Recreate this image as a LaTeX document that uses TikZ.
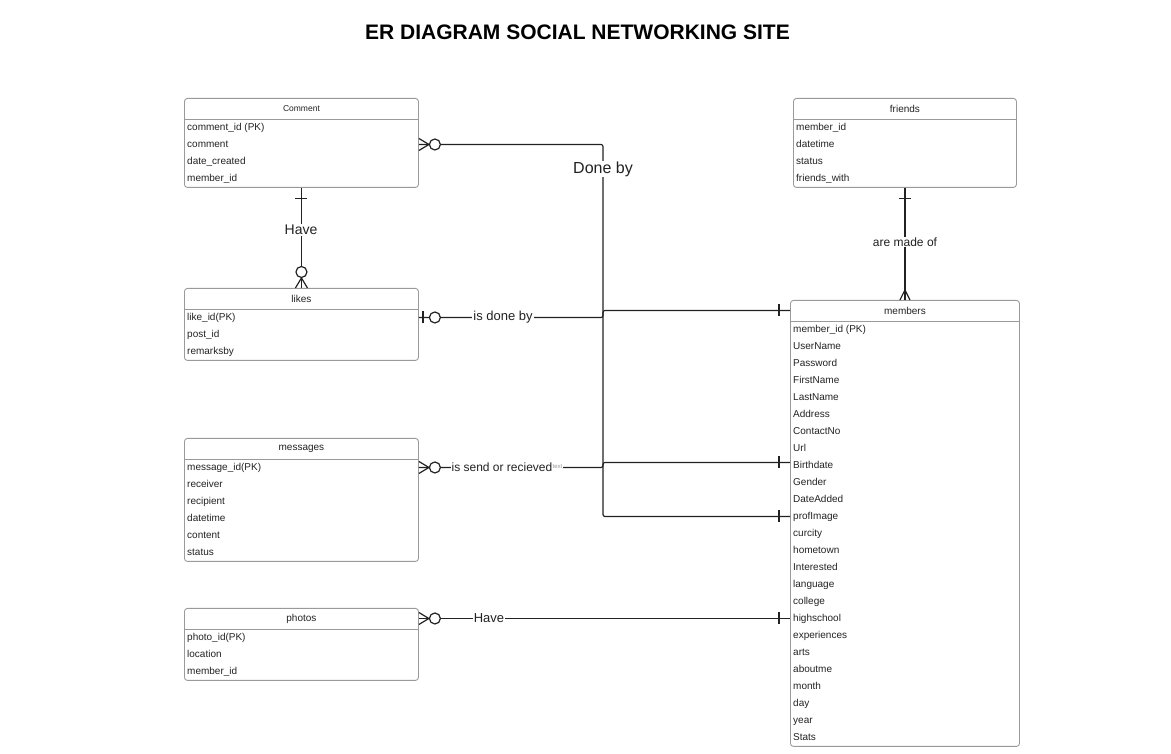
\documentclass[tikz,border=0pt]{standalone}
\usepackage{fontspec}
\setmainfont{Liberation Sans}
\usetikzlibrary{positioning}

\definecolor{tblgray}{HTML}{9A9A9A}
\definecolor{ink}{HTML}{222222}

\tikzset{
  tbl/.style={draw=tblgray, line width=0.9pt, rounded corners=3pt, anchor=north west, inner sep=0pt},
  sep/.style={draw=tblgray, line width=0.9pt},
  hdr/.style={font=\fontsize{10}{12}\selectfont, text=ink, inner sep=0pt},
  fld/.style={font=\fontsize{10}{12}\selectfont, text=ink, anchor=west, inner sep=0pt,
              text height=7.5pt, text depth=2pt},
  rel/.style={line width=1.2pt, draw=ink},
  lbl/.style={fill=white, inner sep=1pt, text=ink},
  crowzero/.pic={\draw[rel] (0,6) -- (10,0) -- (0,-6);
                 \draw[rel, fill=white] (16,0) circle (5.5);},
  onezero/.pic={\draw[rel] (4,-6) -- (4,6);
                \draw[rel, fill=white] (16,0) circle (5.5);},
  crow/.pic={\draw[rel] (0,5) -- (10,0) -- (0,-5);},
  one/.pic={\draw[rel] (11,-6) -- (11,6);},
}

% name, x, top, width, rows, title, fields
\newcommand{\entity}[7]{%
  \node[tbl, minimum width=#4pt, minimum height={(21+17*#5)*1pt}] (#1) at (#2,#3) {};
  \node[hdr] (#1-h) at ([yshift=-10.5pt]#1.north) {#6};
  \draw[sep] ([yshift=-21pt]#1.north west) -- ([yshift=-21pt]#1.north east);
  \foreach \f [count=\i] in {#7}
    \node[fld] (#1-\i) at ([xshift=3pt, yshift={-12.5pt-17pt*\i}]#1.north west) {\f};
}

\begin{document}
\begin{tikzpicture}[x=1pt, y=1pt]
  \useasboundingbox (0,0) rectangle (1171,754);

  \node[font=\fontsize{21}{25}\selectfont\bfseries, text=black] (title) at (577.5,722) {ER DIAGRAM SOCIAL NETWORKING SITE};

  % tables
  \entity{comment}{184}{656}{234}{4}{{\fontsize{8.5}{10}\selectfont Comment}}{comment\_id (PK), comment, date\_created, member\_id}
  \entity{friends}{793}{656}{223}{4}{friends}{member\_id, datetime, status, friends\_with}
  \entity{likes}{184}{466}{234}{3}{likes}{like\_id(PK), post\_id, remarksby}
  \entity{messages}{184}{316}{234}{6}{messages}{message\_id(PK), receiver, recipient, datetime, content, status}
  \entity{photos}{184}{146}{234}{3}{photos}{photo\_id(PK), location, member\_id}
  \entity{members}{790}{454}{229}{25}{members}{member\_id (PK), UserName, Password, FirstName, LastName, Address, ContactNo, Url, Birthdate, Gender, DateAdded, profImage, curcity, hometown, Interested, language, college, highschool, experiences, arts, aboutme, month, day, year, Stats}

  \coordinate (bus) at (603,0);
  \coordinate (birth) at ([yshift=3pt]members-9.west);

  % relationships
  \draw[rel, rounded corners=2pt] (comment.east |- comment-2) -- (bus |- comment-2)
        -- (bus |- members-12) -- (members.west |- members-12);
  \draw[rel, rounded corners=2pt] (likes.east |- likes-1) -- (bus |- likes-1)
        -- (bus |- members-h) -- (members.west |- members-h);
  \draw[rel, rounded corners=2pt] (messages.east |- messages-1) -- (bus |- messages-1)
        -- (bus |- birth) -- (members.west |- birth);
  \draw[rel] (photos.east |- photos-h) -- (members.west |- members-18);
  \draw[rel] (comment.south) -- (likes.north);
  \draw[rel] (friends.south) -- (members.north);

  % labels
  \node[lbl, font=\fontsize{16}{18}\selectfont] (doneby) at (603,585) {Done by};
  \node[lbl, font=\fontsize{14}{16}\selectfont] (have) at (301,524) {Have};
  \node[lbl, font=\fontsize{13}{15}\selectfont] (isdone) at (503,436.5) {is done by};
  \node[lbl, font=\fontsize{12}{14}\selectfont] (sendrec) at (502,286.5) {is send or recieved};
  \node[lbl, font=\fontsize{6}{7}\selectfont, text=black!40, anchor=west, inner sep=0.5pt] (faint) at (552,287) {text};
  \node[lbl, font=\fontsize{13}{15}\selectfont] (havep) at (489,135.5) {Have};
  \node[lbl, font=\fontsize{12}{14}\selectfont] (madeof) at (905,512) {are made of};

  % cardinality marks
  \pic at (comment.east |- comment-2) {crowzero};
  \pic at (likes.east |- likes-1) {onezero};
  \pic at (messages.east |- messages-1) {crowzero};
  \pic at (photos.east |- photos-h) {crowzero};
  \pic[rotate=180] at (members.west |- members-12) {one};
  \pic[rotate=180] at (members.west |- members-h) {one};
  \pic[rotate=180] at (members.west |- birth) {one};
  \pic[rotate=180] at (members.west |- members-18) {one};
  \pic[rotate=-90] at (comment.south) {one};
  \pic[rotate=90] at (likes.north) {crowzero};
  \pic[rotate=-90] at (friends.south) {one};
  \pic[rotate=90] at (members.north) {crow};
\end{tikzpicture}
\end{document}
